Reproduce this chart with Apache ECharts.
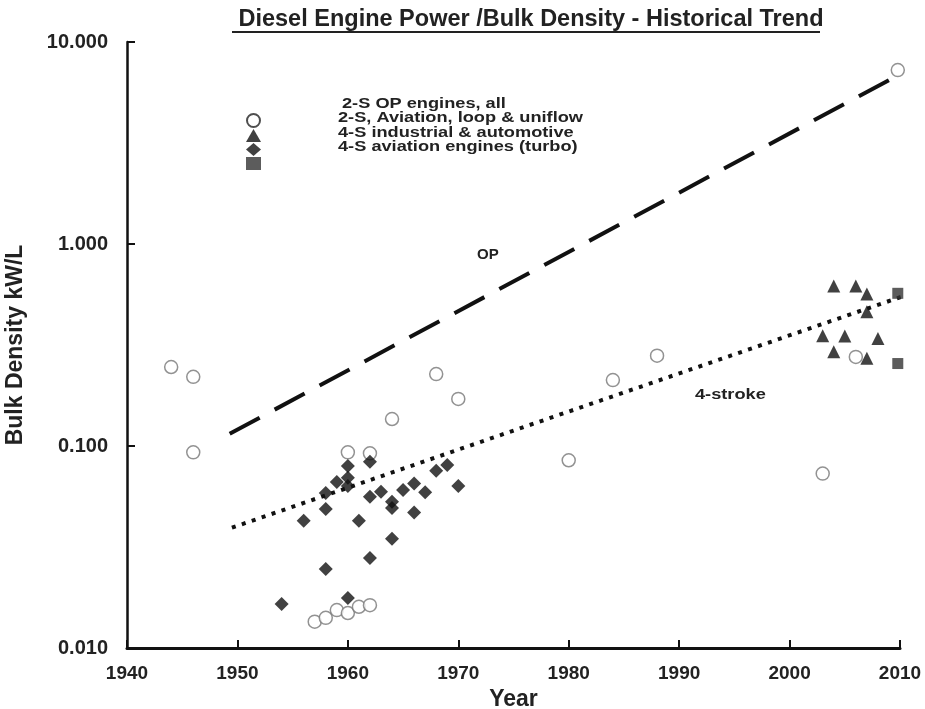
<!DOCTYPE html>
<html>
<head>
<meta charset="utf-8">
<script src="https://cdn.jsdelivr.net/npm/echarts@6/dist/echarts.min.js"></script>
<style>
  html, body { margin: 0; padding: 0; background: #fff; }
  #chart { width: 925px; height: 709px; }
</style>
</head>
<body>
<div id="chart"></div>
<script>
// 2-S OP engines, all
var opYears = [1944, 1946, 1946, 1957, 1958, 1959, 1960, 1960, 1961, 1962, 1962, 1964, 1968, 1970, 1980, 1984, 1988, 2003, 2006, 2009.8];
var opValues = [0.246, 0.22, 0.093, 0.0135, 0.0141, 0.0154, 0.0149, 0.093, 0.016, 0.0163, 0.092, 0.136, 0.227, 0.171, 0.085, 0.212, 0.28, 0.073, 0.276, 7.26];

// 2-S, Aviation, loop & uniflow
var av2sYears = [2003, 2004, 2004, 2005, 2006, 2007, 2007, 2007, 2008];
var av2sValues = [0.351, 0.62, 0.293, 0.35, 0.62, 0.565, 0.462, 0.272, 0.341];

// 4-S industrial & automotive
var ind4sYears = [1954, 1956, 1958, 1958, 1958, 1959, 1960, 1960, 1960, 1960, 1961, 1962, 1962, 1962, 1963, 1964, 1964, 1964, 1965, 1966, 1966, 1967, 1968, 1969, 1970];
var ind4sValues = [0.0165, 0.0426, 0.0246, 0.0488, 0.0585, 0.0664, 0.0177, 0.0634, 0.0696, 0.0796, 0.0426, 0.0279, 0.0561, 0.0836, 0.0594, 0.0347, 0.0493, 0.053, 0.0605, 0.0653, 0.0468, 0.059, 0.0755, 0.0805, 0.0634];

// 4-S aviation engines (turbo)
var av4sYears = [2009.8, 2009.8];
var av4sValues = [0.57, 0.256];

// trend lines
var opTrendYears = [1949.3, 2009.5];
var opTrendValues = [0.115, 6.7];
var fsTrendYears = [1949.5, 2011.2];
var fsTrendValues = [0.0394, 0.574];

var legendNames = ['2-S OP engines, all', '2-S, Aviation, loop & uniflow', '4-S industrial & automotive', '4-S aviation engines (turbo)'];

function pairs(xs, ys) {
  var out = [];
  for (var i = 0; i < xs.length; i++) {
    out.push([xs[i], ys[i]]);
  }
  return out;
}

var font = 'Liberation Sans, Arial, sans-serif';
var chart = echarts.init(document.getElementById('chart'));

// wide bold note text, like the stretched labels of the original
function note(text, x, y) {
  return {
    type: 'text', x: x, y: y, scaleX: 1.3,
    style: { text: text, font: 'bold 14px ' + font, fill: '#222', verticalAlign: 'middle' }
  };
}

var option = {
  backgroundColor: '#fff',
  animation: false,
  title: {
    text: 'Diesel Engine Power /Bulk Density - Historical Trend',
    left: 526,
    textAlign: 'center',
    top: 3,
    textStyle: { fontFamily: font, fontSize: 23.5, fontWeight: 'bold', color: '#222' }
  },
  legend: {
    orient: 'vertical',
    left: 241,
    top: 108,
    itemGap: 1,
    itemWidth: 15,
    itemHeight: 13,
    textStyle: { fontSize: 8 },
    data: [
      { name: legendNames[0], itemStyle: { borderColor: '#222', borderWidth: 2 } },
      legendNames[1], legendNames[2], legendNames[3]
    ],
    formatter: function () { return ''; },
    selectedMode: false
  },
  graphic: [
    { type: 'line', shape: { x1: 232, y1: 32, x2: 820, y2: 32 }, style: { stroke: '#222', lineWidth: 2 } },
    note(legendNames[0], 342, 104),
    note(legendNames[1], 338, 118),
    note(legendNames[2], 338, 133),
    note(legendNames[3], 338, 147),
    { type: 'text', x: 477, y: 255, style: { text: 'OP', font: 'bold 15px ' + font, fill: '#222', verticalAlign: 'middle' } },
    note('4-stroke', 695, 395)
  ],
  grid: { left: 127, right: 25, top: 42, bottom: 61, containLabel: false, outerBoundsMode: 'none' },
  xAxis: {
    type: 'value',
    min: 1940,
    max: 2010,
    interval: 10,
    name: 'Year',
    nameLocation: 'middle',
    nameGap: 34,
    nameTextStyle: { fontFamily: font, fontSize: 23, fontWeight: 'bold', color: '#222' },
    splitLine: { show: false },
    axisLine: { lineStyle: { color: '#111', width: 3 } },
    axisTick: { inside: true, length: 8, lineStyle: { color: '#111', width: 2 } },
    axisLabel: {
      margin: 16, fontFamily: font, fontSize: 19, fontWeight: 'bold', color: '#222',
      formatter: function (v) { return String(v); }
    }
  },
  yAxis: {
    type: 'log',
    logBase: 10,
    min: 0.01,
    max: 10,
    name: 'Bulk Density kW/L',
    nameLocation: 'middle',
    nameGap: 100,
    nameTextStyle: { fontFamily: font, fontSize: 23, fontWeight: 'bold', color: '#222' },
    splitLine: { show: false },
    minorTick: { show: false },
    axisLine: { show: true, lineStyle: { color: '#111', width: 2.5 } },
    axisTick: { show: true, inside: true, length: 8, lineStyle: { color: '#111', width: 2 } },
    axisLabel: {
      margin: 19,
      fontFamily: font, fontSize: 20, fontWeight: 'bold', color: '#222',
      formatter: function (v) { return v.toFixed(3); }
    }
  },
  series: [
    {
      name: legendNames[0],
      type: 'scatter',
      symbol: 'circle',
      symbolSize: 13,
      itemStyle: { color: '#fff', borderColor: '#777', borderWidth: 1.5 },
      data: pairs(opYears, opValues),
      z: 3
    },
    {
      name: legendNames[1],
      type: 'scatter',
      symbol: 'triangle',
      symbolSize: 13,
      itemStyle: { color: '#111' },
      data: pairs(av2sYears, av2sValues),
      z: 4
    },
    {
      name: legendNames[2],
      type: 'scatter',
      symbol: 'diamond',
      symbolSize: 14,
      itemStyle: { color: '#111' },
      data: pairs(ind4sYears, ind4sValues),
      z: 4
    },
    {
      name: legendNames[3],
      type: 'scatter',
      symbol: 'rect',
      symbolSize: 11,
      itemStyle: { color: '#333' },
      data: pairs(av4sYears, av4sValues),
      z: 4
    },
    {
      name: 'OP trend',
      type: 'line',
      symbol: 'none',
      clip: false,
      lineStyle: { color: '#111', width: 4, type: [34, 17], cap: 'butt' },
      data: pairs(opTrendYears, opTrendValues),
      z: 2
    },
    {
      name: '4-stroke trend',
      type: 'line',
      symbol: 'none',
      clip: false,
      lineStyle: { color: '#111', width: 4, type: [4, 6.5], cap: 'butt' },
      data: pairs(fsTrendYears, fsTrendValues),
      z: 2
    }
  ]
};

chart.setOption(option);
</script>
</body>
</html>
